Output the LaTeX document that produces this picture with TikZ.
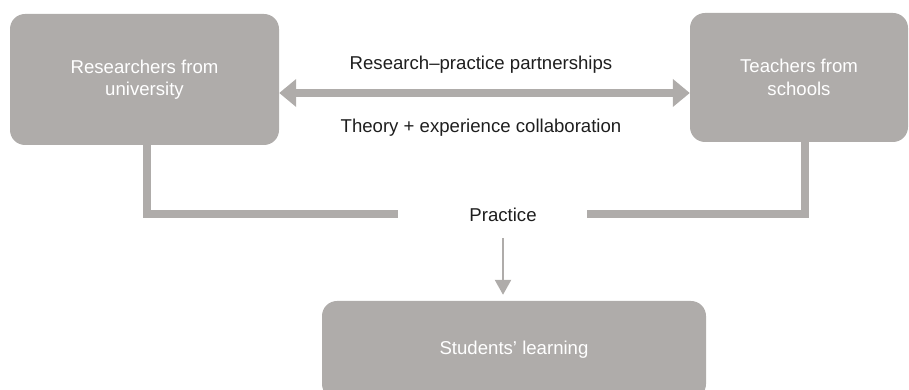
\documentclass[tikz,border=0pt]{standalone}
\usepackage{fontspec}
\setmainfont{Liberation Sans}
\usetikzlibrary{arrows.meta}

\definecolor{boxgray}{RGB}{175,172,170}
\definecolor{txtdark}{RGB}{30,30,30}

\begin{document}
\begin{tikzpicture}[x=1pt, y=1pt,
        box/.style={rectangle, rounded corners=15pt, fill=boxgray, draw=none,
            text=white, align=center, inner sep=0pt,
            font=\fontsize{18.6}{22.5}\selectfont},
        lbl/.style={text=txtdark, inner sep=0pt,
            font=\fontsize{18.6}{22.5}\selectfont},
        link/.style={draw=boxgray, line width=8.5pt},
        bigarrow/.style={draw=boxgray, line width=8pt,
            {Triangle[width=27pt,length=17pt]}-{Triangle[width=27pt,length=17pt]}},
        thinarrow/.style={draw=boxgray, line width=2.5pt,
            -{Triangle[width=16pt,length=15pt]}}]
            \useasboundingbox (0,0) rectangle (909,390);
            \clip (0,0) rectangle (909,390);

            % boxes
            \node[box, minimum width=269pt, minimum height=131pt] (uni) at (144.5, 310.5)
                {Researchers from\\university};
            \node[box, minimum width=218pt, minimum height=129pt] (school) at (799, 312.5)
                {Teachers from\\schools};
            \node[box, minimum width=384pt, minimum height=98pt] (learn) at (514, 40)
                {Students' learning};

            % partnership arrow
            \coordinate (rp) at (481, 297);
            \draw[bigarrow] (uni.east |- rp) -- (school.west |- rp);
            \node[lbl] (rplbl) at (481, 325) {Research–practice partnerships};
            \node[lbl] (thlbl) at (481, 262) {Theory + experience collaboration};

            % practice
            \node[lbl, anchor=base] (practice) at (503, 168.5) {Practice};
            \coordinate (lend) at (398, 176);
            \coordinate (rend) at (587, 176);
            \draw[link] ([xshift=2.5pt]uni.south) |- (lend);
            \draw[link] ([xshift=6pt]school.south) |- (rend);
            \draw[thinarrow] ([yshift=-16pt]practice.south) -- ([yshift=6pt]learn.north -| practice.south);
        \end{tikzpicture}
\end{document}
